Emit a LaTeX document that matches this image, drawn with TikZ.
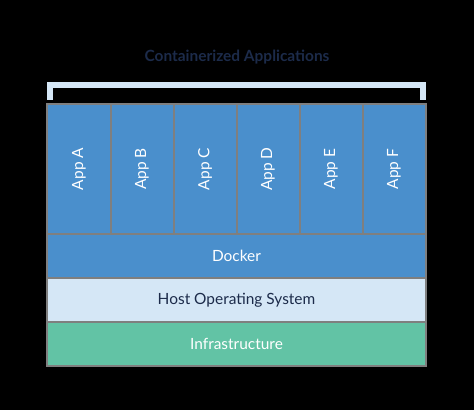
\documentclass[tikz,border=0pt]{standalone}
\usepackage{fontspec}
\setmainfont{Lato}
\usepackage{xcolor}
\usepackage{tikz}
\usetikzlibrary{positioning,calc}
\definecolor{appblue}{HTML}{4A8FCC}
\definecolor{hostblue}{HTML}{D5E7F6}
\definecolor{infragreen}{HTML}{62C3A5}
\definecolor{navy}{HTML}{1C2B4A}
\definecolor{rulegray}{HTML}{7F7F7F}
\begin{document}
\begin{tikzpicture}
	[x=1bp, y=1bp, node distance = 0pt, font=\fontsize{15.5}{18}\selectfont,
	% STYLES
	% The layer style is used for the full width bands of the stack
	layer/.style={rectangle, draw=rulegray, line width=2bp, inner sep=0pt, outer sep=0pt, minimum width=378bp, minimum height=44bp},
	% The app style is used for the containers on top of Docker
	app/.style={rectangle, draw=rulegray, fill=appblue, line width=2bp, inner sep=0pt, outer sep=0pt, minimum width=63bp, minimum height=130bp, text=white},
	bracket/.style={draw=hostblue, line width=6bp}]
	
	% background and margins
	\fill[black] (0,0) rectangle (474,410);
	\useasboundingbox (0,0) rectangle (474,410);
	
	% stack from the bottom up
	\node [layer, fill=infragreen, text=white] (Infra) at (236.5,66) {Infrastructure};
	\node [layer, fill=hostblue, text=navy, above = of Infra] (Host) {Host Operating System};
	\node [layer, fill=appblue, text=white, above = of Host] (Docker) {Docker};
	%apps
	\node [app, anchor=south west] (AppA) at (Docker.north west) {\rotatebox{90}{App A}};
	\node [app, right = of AppA] (AppB) {\rotatebox{90}{App B}};
	\node [app, right = of AppB] (AppC) {\rotatebox{90}{App C}};
	\node [app, right = of AppC] (AppD) {\rotatebox{90}{App D}};
	\node [app, right = of AppD] (AppE) {\rotatebox{90}{App E}};
	\node [app, right = of AppE] (AppF) {\rotatebox{90}{App F}};
	% bracket over the apps and its title
	\coordinate (BracketL) at ($(AppA.north west)+(3,4)$);
	\coordinate (BracketR) at ($(AppF.north east)+(-3,4)$);
	\draw[bracket] (BracketL) -- ++(0,15) -| (BracketR);
	\node [text=navy, font=\fontsize{15.5}{18}\selectfont\bfseries] (Title) at (237,353) {Containerized Applications};
	
\end{tikzpicture}
\end{document}
